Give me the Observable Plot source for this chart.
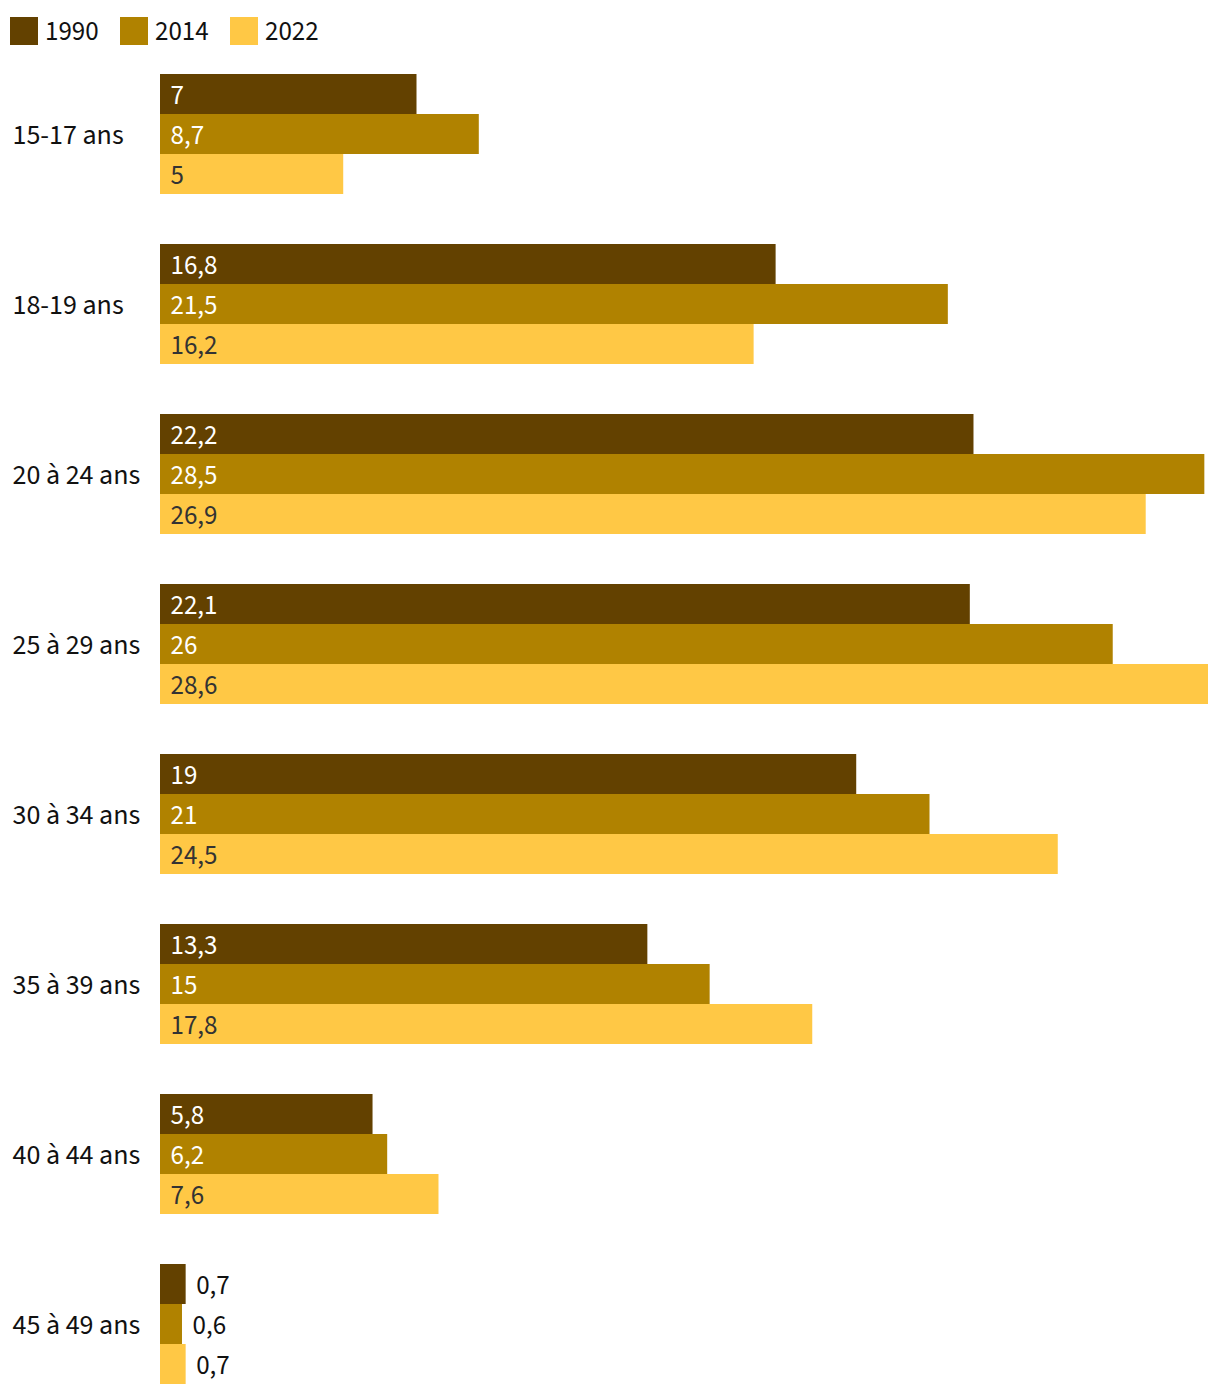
<!DOCTYPE html>
<html>
<head>
<meta charset="utf-8">
<script src="https://cdn.jsdelivr.net/npm/d3@7"></script>
<script src="https://cdn.jsdelivr.net/npm/@observablehq/plot@0.6"></script>
<style>
  html, body { margin: 0; padding: 0; background: #fff; }
  body { font-family: "Source Sans Pro", "Source Sans 3", Lato, sans-serif; width: 1220px; }
  #legend { height: 60px; position: relative; }
  .sw { position: absolute; top: 17px; height: 28px; display: flex; align-items: center; font-size: 27px; color: #111; }
  .sw span.box { display: inline-block; width: 28px; height: 28px; margin-right: 7px; }
  svg { display: block; }
</style>
</head>
<body>
<div id="legend"></div>
<div id="chart"></div>
<script>
const ages = ["15-17 ans", "18-19 ans", "20 à 24 ans", "25 à 29 ans", "30 à 34 ans", "35 à 39 ans", "40 à 44 ans", "45 à 49 ans"];
const years = ["1990", "2014", "2022"];
const colors = ["#634100", "#b08200", "#ffc845"];
const values1990 = [7, 16.8, 22.2, 22.1, 19, 13.3, 5.8, 0.7];
const values2014 = [8.7, 21.5, 28.5, 26, 21, 15, 6.2, 0.6];
const values2022 = [5, 16.2, 26.9, 28.6, 24.5, 17.8, 7.6, 0.7];

const series = [values1990, values2014, values2022];
const data = [];
ages.forEach((age, i) => {
  years.forEach((year, j) => data.push({age, year, value: series[j][i]}));
});

const fmt = v => String(v).replace(".", ",");

// legend
const legend = document.getElementById("legend");
const legendX = [10, 120, 230];
years.forEach((y, j) => {
  const d = document.createElement("div");
  d.className = "sw";
  d.style.left = legendX[j] + "px";
  d.innerHTML = `<span class="box" style="background:${colors[j]}"></span>${y}`;
  legend.appendChild(d);
});

const small = 2;
const fs = 27;
const chart = Plot.plot({
  width: 1220,
  height: 1336,
  marginLeft: 160,
  marginRight: 12,
  marginTop: 14,
  marginBottom: 12,
  style: {fontFamily: '"Source Sans Pro", "Source Sans 3", Lato, sans-serif', fontSize: fs + "px", background: "#fff"},
  x: {domain: [0, 28.6], axis: null},
  y: {domain: years, padding: 0, axis: null},
  fy: {domain: ages, paddingInner: 50 / 170, paddingOuter: 0, axis: null},
  color: {domain: years, range: colors},
  marks: [
    Plot.barX(data, {x: "value", y: "year", fy: "age", fill: "year"}),
    Plot.text(data, {
      x: d => d.value < small ? d.value : 0,
      y: "year",
      fy: "age",
      text: d => fmt(d.value),
      textAnchor: "start",
      dx: 10,
      dy: 1,
      fill: d => d.value < small ? "#111" : (d.year === "2022" ? "#333" : "#fff"),
      fontSize: fs
    }),
    Plot.text(ages, {
      fy: d => d,
      text: d => d,
      frameAnchor: "left",
      textAnchor: "start",
      dx: -148,
      dy: 1,
      fill: "#111",
      fontSize: 28
    })
  ]
});
document.getElementById("chart").appendChild(chart);
</script>
</body>
</html>
